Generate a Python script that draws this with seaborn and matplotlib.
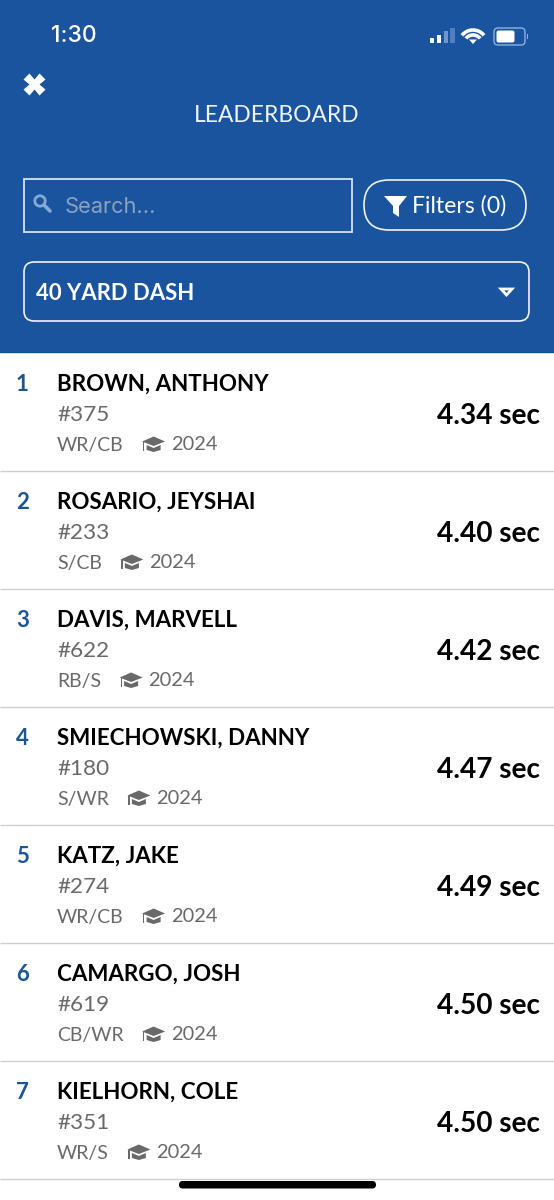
"""Leaderboard screen: 40 yard dash times drawn as a seaborn figure."""

import matplotlib.pyplot as plt
import pandas as pd
import seaborn as sns
from matplotlib.patches import Arc, Circle, FancyBboxPatch, Polygon, Rectangle

ranks = [1, 2, 3, 4, 5, 6, 7]
names = [
    "BROWN, ANTHONY",
    "ROSARIO, JEYSHAI",
    "DAVIS, MARVELL",
    "SMIECHOWSKI, DANNY",
    "KATZ, JAKE",
    "CAMARGO, JOSH",
    "KIELHORN, COLE",
]
numbers = ["#375", "#233", "#622", "#180", "#274", "#619", "#351"]
positions = ["WR/CB", "S/CB", "RB/S", "S/WR", "WR/CB", "CB/WR", "WR/S"]
grad_years = ["2024", "2024", "2024", "2024", "2024", "2024", "2024"]
times = [4.34, 4.40, 4.42, 4.47, 4.49, 4.50, 4.50]

BLUE = "#1a549e"
RANK_BLUE = "#1c5596"
GREY = "#696969"
ROW_H = 118
LIST_TOP = 353

sns.set_theme(style="white")
plt.rcParams["font.family"] = ["Lato", "Noto Sans", "DejaVu Sans"]

df = pd.DataFrame({"rank": ranks, "name": names, "number": numbers,
                   "position": positions, "year": grad_years, "time": times})

fig = plt.figure(figsize=(5.54, 12), dpi=100, facecolor="white")

# header, in pixel coordinates
top = fig.add_axes([0, 0, 1, 1])
top.set_xlim(0, 554)
top.set_ylim(1200, 0)
top.axis("off")

top.add_patch(Rectangle((0, 0), 554, LIST_TOP, color=BLUE, lw=0))
top.plot([0, 554], [352, 352], color="#154a8c", lw=1)

top.text(51, 36, "1:30", color="white", fontsize=16.5, family="Inter",
         weight="medium", va="center", ha="left")

# signal bars
for i, (h, c) in enumerate(zip([5, 8, 12, 15], ["white", "white", "#6f97cb", "#4f80bd"])):
    top.add_patch(Rectangle((430 + i * 6.8, 43 - h), 4.2, h, color=c, lw=0))

# wifi
for d, lw in zip([28, 18], [2.6, 2.6]):
    top.add_patch(Arc((473, 44), d, d, theta1=218, theta2=322, color="white", lw=lw))
top.add_patch(Polygon([[469, 39.5], [477, 39.5], [473, 44]], color="white", lw=0))

# battery
top.add_patch(FancyBboxPatch((494, 28), 31, 17, boxstyle="round,pad=0,rounding_size=4",
                             fc="none", ec="#8fb0da", lw=1))
top.add_patch(FancyBboxPatch((496.5, 30.5), 18, 12, boxstyle="round,pad=0,rounding_size=2",
                             fc="white", ec="none"))
top.add_patch(Rectangle((526.5, 34), 1.5, 5, color="#8fb0da", lw=0))

top.plot([34], [84], marker="X", ms=15.5, color="white", mec="none")
top.text(277, 116, "LEADERBOARD", color="#f0f4fa", fontsize=16.4,
         ha="center", va="center")

# search box
top.add_patch(Rectangle((23.5, 178.5), 328, 53, fc="none", ec="#d8e3f1", lw=1.3))
top.add_patch(Circle((40, 201), 5.2, fc="none", ec="#86a9d6", lw=2))
top.plot([44, 50], [205, 211], color="#86a9d6", lw=2.6, solid_capstyle="round")
top.text(65, 207, "Search...", color="#8ea2bf", fontsize=15.7, family="Inter",
         ha="left", va="center")

# filters pill
top.add_patch(FancyBboxPatch((364, 180), 162, 50, boxstyle="round,pad=0,rounding_size=25",
                             fc="none", ec="#eef3f9", lw=1.2))
top.add_patch(Polygon([[384, 196], [407, 196], [399, 206], [399, 217], [393, 213], [393, 206]],
                      color="white", lw=0))
top.text(412.5, 206, "Filters (0)", color="white", fontsize=16.6, ha="left", va="center")

# event dropdown
top.add_patch(FancyBboxPatch((24, 262), 505, 59, boxstyle="round,pad=0,rounding_size=10",
                             fc="none", ec="#eef3f9", lw=1.2))
top.text(36, 293.5, "40 YARD DASH", color="white", fontsize=15.9, weight="bold",
         ha="left", va="center")
top.add_patch(Polygon([[501, 289], [512, 289], [506.5, 295]], fc="none", ec="white", lw=2))

# home indicator
top.add_patch(FancyBboxPatch((179, 1181), 197, 7.5, boxstyle="round,pad=0,rounding_size=3.7",
                             fc="black", ec="none", zorder=5))

# rows, y axis is the rank: rank r spans r-1 to r
rows = fig.add_axes([0, 0, 1, (1200 - LIST_TOP) / 1200])
rows.patch.set_alpha(0)

sns.rugplot(data=df, y="rank", height=1.0, color="#cfcfcf", lw=1.4, ax=rows)
rows.set_xlim(0, 554)
rows.set_ylim((1200 - LIST_TOP) / ROW_H, 0)
rows.axis("off")


def row_y(rank, px):
    # px is the distance below the top of the row
    return rank - 1 + px / ROW_H


def draw_cap(ax, x, rank):
    # graduation cap icon, 23 px wide
    y = row_y(rank, 89)
    u = 1 / ROW_H
    ax.add_patch(Polygon([[x, y - 0.5 * u], [x + 11.5, y - 5.5 * u], [x + 23, y - 0.5 * u],
                          [x + 11.5, y + 4 * u]], color=GREY, lw=0))
    ax.add_patch(Polygon([[x + 4.5, y + 3 * u], [x + 11.5, y + 6 * u], [x + 18.5, y + 3 * u],
                          [x + 18.5, y + 8 * u], [x + 11.5, y + 10 * u], [x + 4.5, y + 8 * u]],
                         color=GREY, lw=0))
    ax.add_patch(Rectangle((x + 1, y), 1.2, 9 * u, color=GREY, lw=0))


renderer = fig.canvas.get_renderer()
for row in df.itertuples():
    rows.text(16, row_y(row.rank, 31.5), str(row.rank), color=RANK_BLUE, fontsize=16,
              weight="bold", ha="left", va="center")
    rows.text(57, row_y(row.rank, 31.5), row.name, color="black", fontsize=16.1,
              weight="bold", ha="left", va="center")
    rows.text(57, row_y(row.rank, 62), row.number, color=GREY, fontsize=16.2,
              ha="left", va="center")
    pos_text = rows.text(57, row_y(row.rank, 92), row.position, color=GREY, fontsize=14.0,
                         ha="left", va="center")
    cap_x = pos_text.get_window_extent(renderer).x1 + 18.5
    draw_cap(rows, cap_x, row.rank)
    rows.text(cap_x + 28.5, row_y(row.rank, 92), row.year, color=GREY, fontsize=14.4,
              ha="left", va="center")
    rows.text(540, row_y(row.rank, 62.5), f"{row.time:.2f} sec", color="black", fontsize=20.2,
              weight="bold", ha="right", va="center")

fig.savefig("out.png", dpi=100, facecolor="white")
plt.close(fig)
